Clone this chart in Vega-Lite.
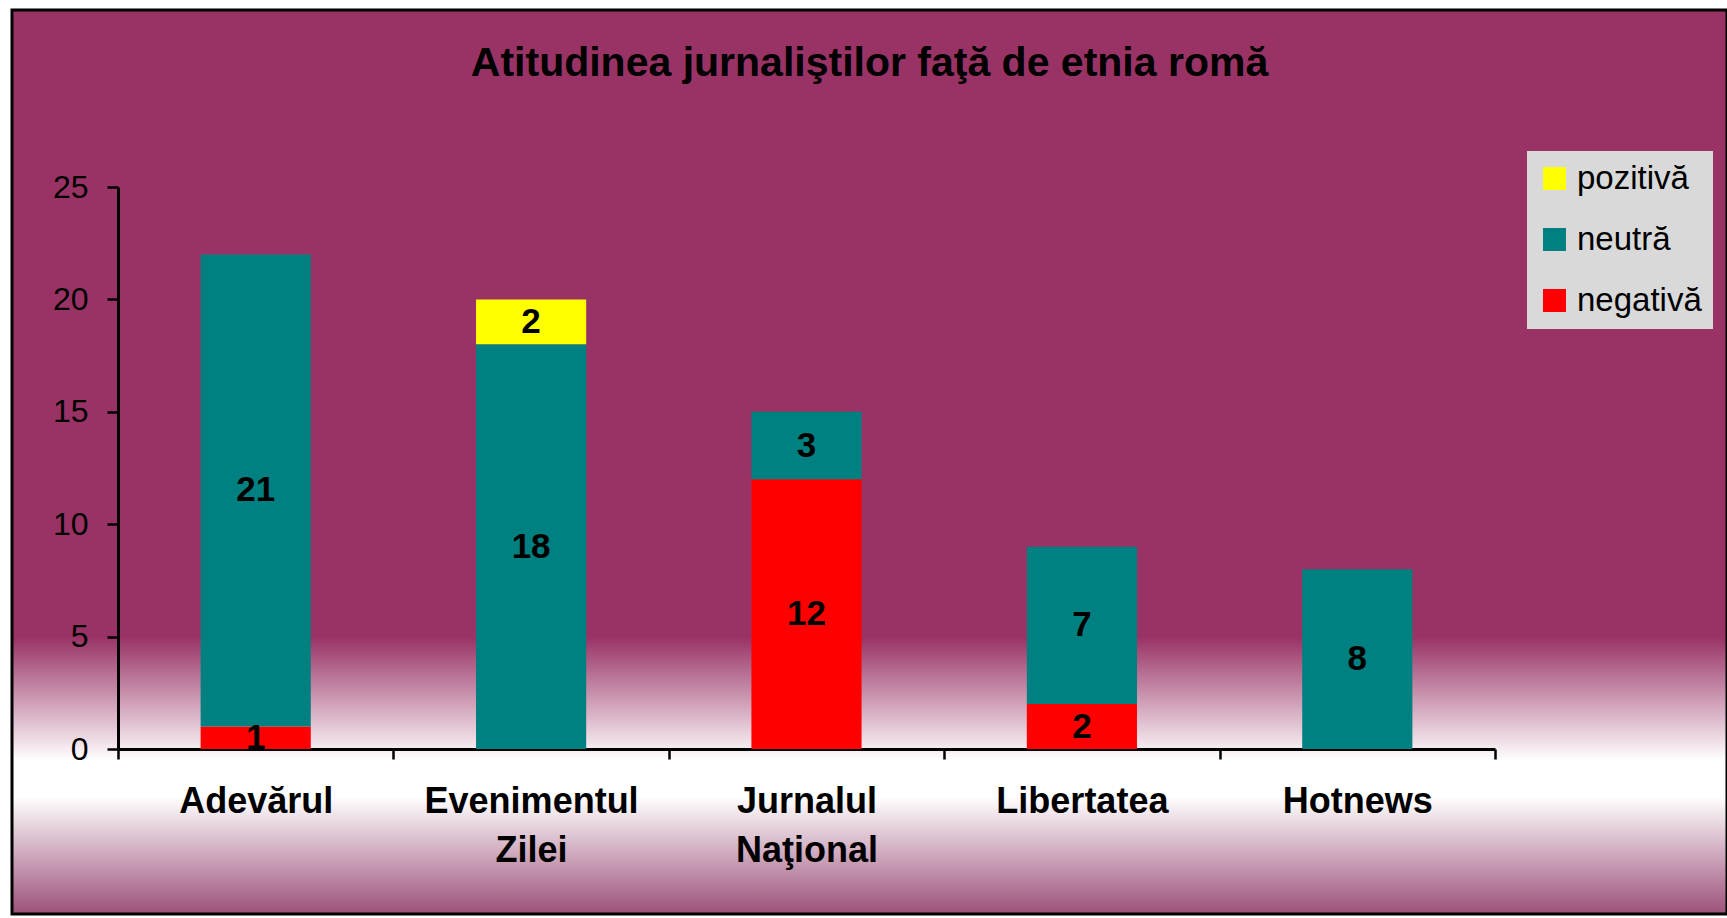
{
  "$schema": "https://vega.github.io/schema/vega-lite/v6.json",
  "autosize": {"type": "none"},
  "padding": {"left": 12, "top": 10, "right": 0, "bottom": 4},
  "width": 1715,
  "height": 904,
  "background": "#ffffff",
  "config": {
    "font": "Liberation Sans",
    "view": {
      "stroke": "#000000",
      "strokeWidth": 3,
      "fill": {
        "gradient": "linear",
        "x1": 0, "y1": 0, "x2": 0, "y2": 1,
        "stops": [
          {"offset": 0, "color": "#993366"},
          {"offset": 0.694, "color": "#993366"},
          {"offset": 0.83, "color": "#ffffff"},
          {"offset": 0.87, "color": "#ffffff"},
          {"offset": 1, "color": "#9c5079"}
        ]
      }
    }
  },
  "title": {
    "text": "Atitudinea jurnaliştilor faţă de etnia romă",
    "fontSize": 41,
    "fontWeight": "bold",
    "color": "#000000",
    "anchor": "middle",
    "frame": "group",
    "offset": -107,
    "baseline": "alphabetic"
  },
  "data": {
    "values": [
      {"ziar": "Adevărul", "atitudine": "negativă", "n": 1},
      {"ziar": "Adevărul", "atitudine": "neutră", "n": 21},
      {"ziar": "Evenimentul Zilei", "atitudine": "neutră", "n": 18},
      {"ziar": "Evenimentul Zilei", "atitudine": "pozitivă", "n": 2},
      {"ziar": "Jurnalul Naţional", "atitudine": "negativă", "n": 12},
      {"ziar": "Jurnalul Naţional", "atitudine": "neutră", "n": 3},
      {"ziar": "Libertatea", "atitudine": "negativă", "n": 2},
      {"ziar": "Libertatea", "atitudine": "neutră", "n": 7},
      {"ziar": "Hotnews", "atitudine": "neutră", "n": 8}
    ]
  },
  "encoding": {
    "x": {
      "field": "ziar",
      "type": "nominal",
      "sort": null,
      "scale": {"range": [106, 1483], "paddingInner": 0, "paddingOuter": 0},
      "axis": {
        "orient": "bottom",
        "offset": -165,
        "title": null,
        "tickBand": "extent",
        "grid": false,
        "domainColor": "#000000",
        "domainWidth": 3,
        "tickColor": "#000000",
        "tickWidth": 2.5,
        "tickSize": 10,
        "labelFontSize": 36,
        "labelFontWeight": "bold",
        "labelColor": "#000000",
        "labelAngle": 0,
        "labelPadding": 25,
        "labelLineHeight": 49,
        "labelBaseline": "top",
        "labelLimit": 500,
        "labelExpr": "split(datum.label, ' ')"
      }
    }
  },
  "layer": [
    {
      "mark": {"type": "bar", "width": {"band": 0.4}},
      "encoding": {
        "y": {
          "field": "n",
          "type": "quantitative",
          "stack": "zero",
          "scale": {"domain": [0, 25], "range": [739, 177], "nice": false, "zero": true},
          "axis": {
            "values": [0, 5, 10, 15, 20, 25],
            "offset": -106,
            "title": null,
            "grid": false,
            "domainColor": "#000000",
            "domainWidth": 3,
            "tickColor": "#000000",
            "tickWidth": 2.5,
            "tickSize": 11,
            "labelFontSize": 32,
            "labelColor": "#000000",
            "labelPadding": 19
          }
        },
        "color": {
          "field": "atitudine",
          "type": "nominal",
          "scale": {"domain": ["pozitivă", "neutră", "negativă"], "range": ["#ffff00", "#008080", "#ff0000"]},
          "legend": {
            "orient": "none",
            "legendX": 1515,
            "legendY": 141,
            "title": null,
            "symbolType": "square",
            "symbolSize": 529,
            "symbolStrokeWidth": 0,
            "symbolOpacity": 1,
            "labelFontSize": 33,
            "labelColor": "#000000",
            "labelOffset": 6,
            "labelLimit": 300,
            "rowPadding": 27,
            "padding": 11,
            "fillColor": "#d9d9d9",
            "strokeColor": null
          }
        },
        "order": {"field": "atitudine", "sort": "ascending"}
      }
    },
    {
      "mark": {"type": "text", "fontSize": 35, "fontWeight": "bold", "color": "#000000", "align": "center", "baseline": "middle"},
      "encoding": {
        "y": {
          "field": "n",
          "type": "quantitative",
          "stack": "zero",
          "bandPosition": 0.5,
          "scale": {"domain": [0, 25], "range": [739, 177], "nice": false, "zero": true}
        },
        "detail": {"field": "atitudine", "type": "nominal"},
        "order": {"field": "atitudine", "sort": "ascending"},
        "text": {"field": "n", "type": "quantitative"}
      }
    }
  ]
}
